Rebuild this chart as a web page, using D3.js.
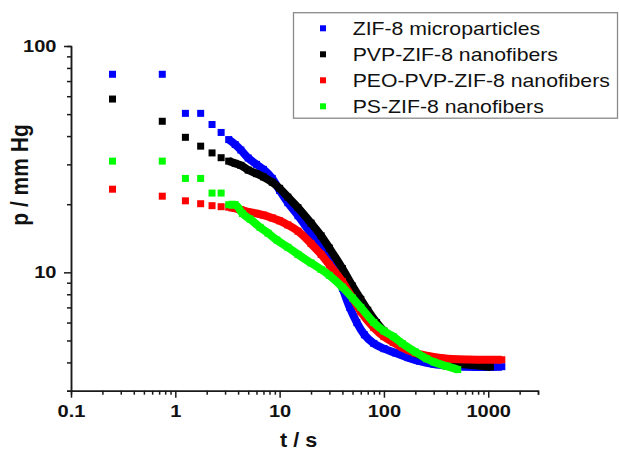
<!DOCTYPE html>
<html>
<head>
<meta charset="utf-8">
<script src="https://cdn.jsdelivr.net/npm/d3@7"></script>
<style>
  body { margin: 0; background: #fff; }
  svg { display: block; font-family: "Liberation Sans", Arial, sans-serif; }
</style>
</head>
<body>
<div class="graph"></div>
<script>
// data: [t in s, p in mm Hg]
const zifMicro = [[0.25,75],[0.75,75],[1.25,50.4],[1.75,50.4],[2.25,45],[2.75,41.5],[3.25,38.6],[3.75,36.7],
  [4.25,34.7],[5,32],[6,30],[7,28.5],[8.5,26],[10,23],[12,20.3],[15,17.8],[20,14.8],[25,12.8],[30,11.2],
  [35,9.8],[40,8.5],[47,7.0],[55,6.0],[65,5.3],[80,4.85],[100,4.6],[130,4.4],[170,4.2],[220,4.05],
  [300,3.93],[400,3.87],[600,3.83],[900,3.82],[1350,3.83]]
const pvpFib = [[0.25,58.3],[0.75,46.5],[1.25,39.5],[1.75,36.1],[2.25,33.7],[2.75,32.1],[3.25,31],[3.75,30.3],
  [4.25,29.7],[5,28.3],[6,27.3],[7,26.4],[8.5,25],[10,23.5],[12,21.5],[15,19.3],[20,16.5],[25,14.5],
  [30,12.8],[40,10.4],[50,8.7],[60,7.6],[70,6.8],[85,6.0],[100,5.5],[123,5.1],[150,4.75],[200,4.4],
  [257,4.2],[350,4.05],[500,3.95],[700,3.9],[1050,3.82]]
const peoFib = [[0.25,23.3],[0.75,21.7],[1.25,20.7],[1.75,20.1],[2.25,19.7],[2.75,19.5],[3.25,19.4],[3.75,19.2],
  [4.25,18.9],[5,18.5],[6,18.2],[7,17.9],[8.5,17.4],[10,16.9],[12,16.2],[15,15.2],[20,13.4],[25,12.0],
  [30,10.8],[40,9.1],[50,7.7],[60,6.7],[80,5.7],[100,5.2],[123,4.9],[150,4.65],[200,4.4],[257,4.28],
  [350,4.18],[500,4.13],[800,4.11],[1350,4.11]]
const psFib = [[0.25,31],[0.75,31],[1.25,26],[1.75,26],[2.25,22.4],[2.75,22.4],[3.25,19.9],[3.75,19.9],
  [4.4,18.2],[5.2,17.2],[6.5,15.8],[7.75,14.9],[9.4,13.9],[12,12.9],[15,12.0],[20,11.0],[25,10.3],
  [30,9.7],[40,8.6],[50,7.7],[60,7.0],[80,6.0],[100,5.5],[123,5.2],[150,4.85],[200,4.45],[257,4.15],
  [300,4.02],[400,3.85],[510,3.72]]

const seriesNames = ["ZIF-8 microparticles","PVP-ZIF-8 nanofibers","PEO-PVP-ZIF-8 nanofibers","PS-ZIF-8 nanofibers"]
const seriesColors = ["#0000ff","#000000","#ff0000","#00ff00"]
const seriesData = [zifMicro, pvpFib, peoFib, psFib]

const xTickVals = [0.1,1,10,100,1000]
const xTickLabels = ["0.1","1","10","100","1000"]
const yTickVals = [10,100]
const yTickLabels = ["10","100"]

const W = 619, H = 452
const stretch = 1.18   // the picture is a bit wider than tall

let svg = d3.select('.graph')
    .append('svg')
    .attr('width', W)
    .attr('height', H)

let x = d3.scaleLog().domain([0.1, 3000]).range([71, 538])
let y = d3.scaleLog().domain([3, 100]).range([390.7, 46])

// minor ticks first, no labels
svg.append('g')
    .attr('transform', 'translate(0,390.7)')
    .call(d3.axisBottom(x).tickValues(x.ticks().filter(d => !xTickVals.includes(d))).tickSize(4).tickFormat(''))
svg.append('g')
    .attr('transform', 'translate(71,0)')
    .call(d3.axisLeft(y).tickValues(y.ticks().filter(d => !yTickVals.includes(d))).tickSize(4).tickFormat(''))

let gx = svg.append('g')
    .attr('transform', 'translate(0,390.7)')
    .call(d3.axisBottom(x).tickValues(xTickVals).tickSize(7).tickSizeOuter(0).tickPadding(7.3)
      .tickFormat((d,i) => xTickLabels[i]))
let gy = svg.append('g')
    .attr('transform', 'translate(71,0)')
    .call(d3.axisLeft(y).tickValues(yTickVals).tickSize(7).tickSizeOuter(0).tickPadding(5.3)
      .tickFormat((d,i) => yTickLabels[i]))

svg.selectAll('.domain, .tick line')
    .attr('stroke', '#1a1a1a')
    .attr('stroke-width', 1.5)
svg.selectAll('.tick text')
    .attr('fill', '#111')
    .style('font-size', '17px')
    .style('font-weight', 'bold')
    .attr('transform', `scale(${stretch},1)`)

// axis titles
svg.append('text')
    .attr('transform', `translate(298.7,447) scale(1.08,1)`)
    .attr('text-anchor', 'middle')
    .style('font-size', '20px')
    .style('font-weight', 'bold')
    .attr('fill', '#111')
    .text('t / s')
svg.append('text')
    .attr('transform', `translate(28,175) scale(1.15,1) rotate(-90)`)
    .attr('text-anchor', 'middle')
    .style('font-size', '21px')
    .style('font-weight', 'bold')
    .attr('fill', '#111')
    .text('p / mm Hg')

// data: thick band where points crowd together, squares for every point
let band = d3.line()
    .x(d => x(d[0]))
    .y(d => y(d[1]))
    .curve(d3.curveMonotoneX)

seriesData.forEach(function(data, k){
  let g = svg.append('g')
  g.append('path')
      .datum(data.filter(d => d[0] >= 3.2))
      .attr('d', band)
      .attr('fill', 'none')
      .attr('stroke', seriesColors[k])
      .attr('stroke-width', 8)
      .attr('stroke-linejoin', 'round')
  g.selectAll('rect')
      .data(data)
      .enter()
      .append('rect')
      .attr('x', d => x(d[0]) - 3.5)
      .attr('y', d => y(d[1]) - 3.5)
      .attr('width', 7)
      .attr('height', 7)
      .attr('fill', seriesColors[k])
})

// legend
let legend = svg.append('g')
legend.append('rect')
    .attr('x', 293.5)
    .attr('y', 12.7)
    .attr('width', 324)
    .attr('height', 105.5)
    .attr('fill', '#fff')
    .attr('stroke', '#8a8a8a')
    .attr('stroke-width', 1.3)
seriesNames.forEach(function(name, k){
  let cy = 28.3 + k * 26
  legend.append('rect')
      .attr('x', 320)
      .attr('y', cy - 3)
      .attr('width', 6)
      .attr('height', 6)
      .attr('fill', seriesColors[k])
  legend.append('text')
      .attr('transform', `translate(352.7,${cy + 6.5}) scale(${stretch},1)`)
      .style('font-size', '18px')
      .attr('fill', '#111')
      .text(name)
})
</script>
</body>
</html>
